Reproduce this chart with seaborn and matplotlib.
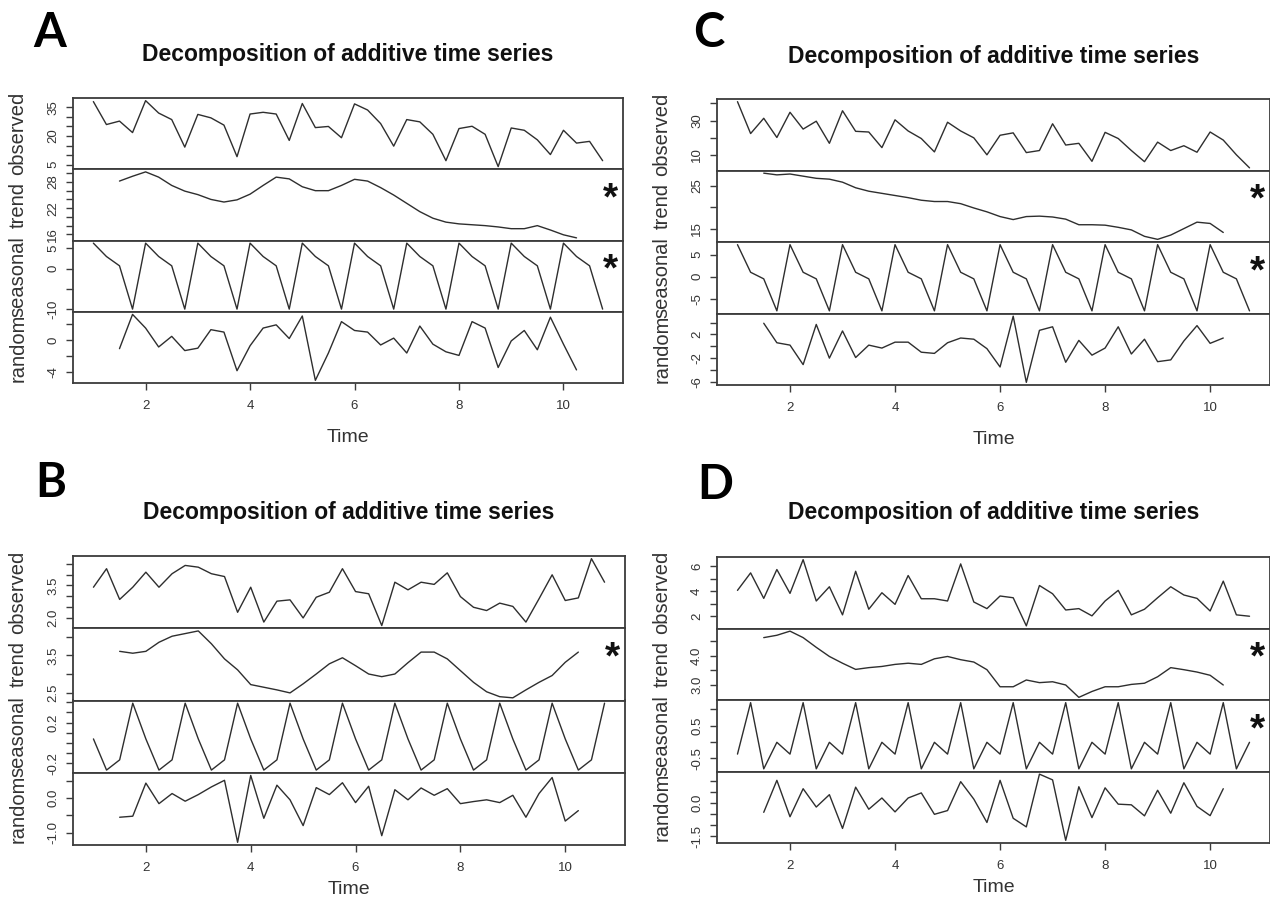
import numpy as np
import matplotlib
matplotlib.use("Agg")
import matplotlib.pyplot as plt
import seaborn as sns

# ---------------------------------------------------------------------------
# Quarterly series, 10 years (time 1.00 .. 10.75); trend/random lose two
# quarters at each end because of the centred moving average.
# ---------------------------------------------------------------------------
time_full = np.arange(40) / 4 + 1
time_trim = time_full[2:38]

# ---- Panel A ----
obs_A = [38, 26, 27.8, 21.8, 38.5, 32, 28.6, 14.2, 31.3, 29.5, 25.7, 9.2,
         31.5, 32.4, 31.5, 17.7, 37, 24.4, 25, 19.1, 36.8, 33.6, 26.5, 14.7,
         28.6, 27.4, 20.9, 7.1, 23.9, 25.1, 20.9, 4, 24.2, 23, 18, 10.3,
         23, 16.3, 17.2, 7.1]
trend_A = [28.2, 29.3, 30.3, 29.1, 27.2, 25.9, 25.1, 24, 23.4, 23.9, 25.2, 27.2,
           29.1, 28.7, 26.9, 26, 26, 27.2, 28.6, 28.2, 26.7, 25, 23.1, 21.2,
           19.7, 18.8, 18.4, 18.2, 18, 17.7, 17.3, 17.3, 18, 17, 15.9, 15.2]
seas_A = [6.3, 3.0, 0.7, -10.0, 6.3, 3.0, 0.7, -10.0, 6.3, 3.0, 0.7, -10.0,
          6.3, 3.0, 0.7, -10.0, 6.3, 3.0, 0.7, -10.0, 6.3, 3.0, 0.7, -10.0,
          6.3, 3.0, 0.7, -10.0, 6.3, 3.0, 0.7, -10.0, 6.3, 3.0, 0.7, -10.0,
          6.3, 3.0, 0.7, -10.0]
rand_A = [-1.06, 3.2, 1.5, -0.85, 0.47, -1.3, -1.0, 1.3, 1.0, -3.8, -0.7, 1.5,
          1.9, 0.2, 3.0, -5.0, -1.6, 2.3, 1.2, 1.0, -0.6, 0.25, -1.6, 1.75,
          -0.5, -1.45, -1.9, 2.3, 1.5, -3.4, -0.1, 1.2, -1.2, 2.85, -0.5, -3.7]

# ---- Panel B ----
obs_B = [3.42, 4.27, 2.86, 3.42, 4.11, 3.42, 4.04, 4.42, 4.34, 4.04, 3.91, 2.27,
         3.42, 1.82, 2.78, 2.84, 2.01, 2.96, 3.19, 4.27, 3.22, 3.12, 1.66, 3.65,
         3.3, 3.65, 3.55, 4.08, 2.99, 2.5, 2.35, 2.69, 2.54, 1.82, 2.89, 3.99,
         2.81, 2.93, 4.73, 3.65]
trend_B = [3.61, 3.56, 3.61, 3.85, 4.01, 4.08, 4.15, 3.81, 3.41, 3.12, 2.73, 2.66,
           2.59, 2.51, 2.75, 3.01, 3.28, 3.44, 3.23, 3.01, 2.94, 3.01, 3.31, 3.59,
           3.59, 3.41, 3.1, 2.79, 2.54, 2.41, 2.38, 2.59, 2.79, 2.97, 3.32, 3.59]
seas_B = [0.04, -0.265, -0.165, 0.39, 0.04, -0.265, -0.165, 0.39,
          0.04, -0.265, -0.165, 0.39, 0.04, -0.265, -0.165, 0.39,
          0.04, -0.265, -0.165, 0.39, 0.04, -0.265, -0.165, 0.39,
          0.04, -0.265, -0.165, 0.39, 0.04, -0.265, -0.165, 0.39,
          0.04, -0.265, -0.165, 0.39, 0.04, -0.265, -0.165, 0.39]
rand_B = [-0.55, -0.52, 0.43, -0.16, 0.13, -0.09, 0.1, 0.32, 0.51, -1.27, 0.65, -0.58,
          0.37, -0.05, -0.79, 0.3, 0.1, 0.44, -0.13, 0.34, -1.08, 0.24, -0.05, 0.29,
          0.08, 0.27, -0.16, -0.1, -0.05, -0.13, 0.08, -0.55, 0.13, 0.59, -0.66, -0.36]

# ---- Panel C ----
obs_C = [41, 22.4, 31.3, 20.1, 34.8, 25, 29.6, 16.7, 35.7, 23.7, 23.3, 14.2,
         30.4, 23.9, 19.5, 11.7, 29, 23.9, 19.9, 10, 21.4, 22.8, 11.3, 12.5,
         28.1, 15.7, 16.7, 6.2, 23.1, 19.5, 12.5, 6, 17.4, 12.5, 15.3, 11.5,
         23.3, 18.6, 10, 2.4]
trend_C = [27.9, 27.5, 27.7, 27.2, 26.7, 26.5, 25.8, 24.5, 23.7, 23.2, 22.7, 22.2,
           21.6, 21.3, 21.3, 20.8, 19.8, 18.9, 17.8, 17.1, 17.8, 17.9, 17.7, 17.2,
           15.9, 15.9, 15.8, 15.3, 14.7, 13.2, 12.5, 13.5, 15, 16.5, 16.2, 14.1]
seas_C = [7.3, 1.0, -0.5, -7.8, 7.3, 1.0, -0.5, -7.8, 7.3, 1.0, -0.5, -7.8,
          7.3, 1.0, -0.5, -7.8, 7.3, 1.0, -0.5, -7.8, 7.3, 1.0, -0.5, -7.8,
          7.3, 1.0, -0.5, -7.8, 7.3, 1.0, -0.5, -7.8, 7.3, 1.0, -0.5, -7.8,
          7.3, 1.0, -0.5, -7.8]
rand_C = [3.9, 0.6, 0.2, -3.1, 3.7, -2, 2.6, -1.9, 0.2, -0.3, 0.7, 0.7,
          -1, -1.2, 0.6, 1.4, 1.2, -0.4, -3.5, 5.1, -6.1, 2.7, 3.3, -2.7,
          1, -1.5, -0.3, 3.3, -1.3, 1.2, -2.6, -2.3, 0.9, 3.5, 0.5, 1.4]

# ---- Panel D ----
obs_D = [4.07, 5.47, 3.43, 5.74, 3.83, 6.53, 3.22, 4.36, 2.11, 5.6, 2.56, 3.88,
         2.95, 5.26, 3.4, 3.4, 3.22, 6.19, 3.14, 2.61, 3.62, 3.48, 1.23, 4.46,
         3.8, 2.5, 2.61, 2.03, 3.22, 4.07, 2.11, 2.56, 3.48, 4.36, 3.7, 3.43,
         2.42, 4.81, 2.11, 2.0]
trend_D = [4.61, 4.69, 4.83, 4.61, 4.28, 3.97, 3.74, 3.53, 3.59, 3.63, 3.7, 3.74,
           3.7, 3.89, 3.97, 3.86, 3.78, 3.52, 2.94, 2.94, 3.17, 3.08, 3.11, 3.0,
           2.58, 2.78, 2.94, 2.94, 3.02, 3.06, 3.28, 3.59, 3.52, 3.44, 3.33, 3.0]
seas_D = [-0.37, 1.2, -0.82, -0.01, -0.37, 1.2, -0.82, -0.01,
          -0.37, 1.2, -0.82, -0.01, -0.37, 1.2, -0.82, -0.01,
          -0.37, 1.2, -0.82, -0.01, -0.37, 1.2, -0.82, -0.01,
          -0.37, 1.2, -0.82, -0.01, -0.37, 1.2, -0.82, -0.01,
          -0.37, 1.2, -0.82, -0.01, -0.37, 1.2, -0.82, -0.01]
rand_D = [-0.42, 1.03, -0.62, 0.65, -0.18, 0.38, -1.15, 0.72, -0.28, 0.23, -0.4, 0.23,
          0.46, -0.51, -0.34, 0.97, 0.18, -0.88, 1.03, -0.69, -1.08, 1.31, 1.05, -1.69,
          0.74, -0.66, 0.69, -0.05, -0.08, -0.58, 0.58, -0.46, 0.92, -0.15, -0.57, 0.65]

# ---- axis ticks (positions, and the labels that are printed) ----
ticks_A = [[5, 10, 15, 20, 25, 30, 35], [16, 18, 20, 22, 24, 26, 28, 30],
           [-10, -5, 0, 5], [-4, -2, 0, 2]]
labels_A = [["5", "", "", "20", "", "", "35"], ["16", "", "", "22", "", "", "28", ""],
            ["-10", "", "0", "5"], ["-4", "", "0", ""]]
ticks_B = [[2.0, 2.5, 3.0, 3.5, 4.0, 4.5], [2.5, 3.0, 3.5, 4.0],
           [-0.2, -0.1, 0.0, 0.1, 0.2, 0.3, 0.4], [-1.0, -0.5, 0.0, 0.5]]
labels_B = [["2.0", "", "", "3.5", "", ""], ["2.5", "", "3.5", ""],
            ["-0.2", "", "", "", "0.2", "", ""], ["-1.0", "", "0.0", ""]]
ticks_C = [[10, 20, 30, 40], [15, 20, 25], [-5, 0, 5], [-6, -4, -2, 0, 2, 4]]
labels_C = [["10", "", "30", ""], ["15", "", "25"], ["-5", "0", "5"],
            ["-6", "", "-2", "", "2", ""]]
ticks_D = [[2, 3, 4, 5, 6], [3.0, 3.5, 4.0, 4.5], [-0.5, 0.0, 0.5, 1.0],
           [-1.5, -1.0, -0.5, 0.0, 0.5, 1.0]]
labels_D = [["2", "", "4", "", "6"], ["3.0", "", "4.0", ""], ["-0.5", "", "0.5", ""],
            ["-1.5", "", "", "0.0", "", ""]]

time_ticks = [2, 4, 6, 8, 10]
row_names = ["observed", "trend", "seasonal", "random"]
title_text = "Decomposition of additive time series"

LINE = "#2e2e2e"
FRAME = "#3c3c3c"
TEXT = "#333333"
W, H = 1270, 909

sns.set_style("ticks")
plt.rcParams["font.family"] = ["Liberation Sans", "DejaVu Sans"]

fig = plt.figure(figsize=(W / 100, H / 100), dpi=100)

span = time_full[-1] - time_full[0]
x_lo, x_hi = time_full[0] - 0.04 * span, time_full[-1] + 0.04 * span


def draw_panel(letter, rows, ticks, labels, starred, box, title_y, letter_pos, time_gap):
    left, top, right, bottom = box
    h = (bottom - top) / 4
    for i, (name, (t, v)) in enumerate(zip(row_names, rows)):
        ax = fig.add_axes([left / W, 1 - (top + (i + 1) * h) / H,
                           (right - left) / W, h / H])
        sns.lineplot(x=t, y=v, ax=ax, color=LINE, linewidth=1.0)
        lo, hi = min(v), max(v)
        pad = 0.04 * (hi - lo)
        ax.set_ylim(lo - pad, hi + pad)
        ax.set_xlim(x_lo, x_hi)
        ax.set_yticks(ticks[i])
        ax.set_yticklabels(labels[i])
        ax.tick_params(axis="y", direction="out", length=5, width=1.0,
                       color=FRAME, labelsize=9.5, labelcolor=TEXT,
                       pad=5, labelrotation=90)
        for lab in ax.get_yticklabels():
            lab.set_va("center")
        for sp in ax.spines.values():
            sp.set_visible(True)
            sp.set_color(FRAME)
            sp.set_linewidth(1.3)
        ax.set_ylabel(name, fontsize=14.5, color=TEXT, va="center")
        ax.yaxis.set_label_coords(-55 / (right - left), 0.5)
        if i == 3:
            ax.set_xticks(time_ticks)
            ax.set_xticklabels([str(k) for k in time_ticks])
            ax.tick_params(axis="x", direction="out", length=5, width=1.0,
                           color=FRAME, labelsize=9.5, labelcolor=TEXT, pad=7)
            ax.set_xlabel("Time", fontsize=14, color=TEXT, va="center")
            ax.xaxis.set_label_coords(0.5, -time_gap / h)
        else:
            ax.tick_params(axis="x", bottom=False, labelbottom=False)
            ax.set_xlabel("")
        if name in starred:
            ax.text(1 - 13 / (right - left), 1 - 40 / h, "*", transform=ax.transAxes,
                    fontsize=28, fontweight="bold", ha="center", va="baseline",
                    color="#111111")
    fig.text((left + right) / 2 / W, 1 - title_y / H, title_text,
             fontsize=16.5, fontweight="bold", ha="center", va="center", color="#111111")
    fig.text(letter_pos[0] / W, 1 - letter_pos[1] / H, letter,
             fontsize=34, fontweight="bold", ha="left", va="baseline",
             family=["Lato", "DejaVu Sans"], color="#000000")


draw_panel("A", [(time_full, obs_A), (time_trim, trend_A), (time_full, seas_A), (time_trim, rand_A)],
           ticks_A, labels_A, {"trend", "seasonal"}, (73, 98, 623, 383), 55, (33, 47), 54)
draw_panel("B", [(time_full, obs_B), (time_trim, trend_B), (time_full, seas_B), (time_trim, rand_B)],
           ticks_B, labels_B, {"trend"}, (73, 556, 625, 845), 512, (35, 497), 44)
draw_panel("C", [(time_full, obs_C), (time_trim, trend_C), (time_full, seas_C), (time_trim, rand_C)],
           ticks_C, labels_C, {"trend", "seasonal"}, (717, 99, 1270, 385), 57, (693, 47), 54)
draw_panel("D", [(time_full, obs_D), (time_trim, trend_D), (time_full, seas_D), (time_trim, rand_D)],
           ticks_D, labels_D, {"trend", "seasonal"}, (717, 557, 1270, 843), 512, (697, 499), 45)

fig.savefig("out.png", dpi=100)
